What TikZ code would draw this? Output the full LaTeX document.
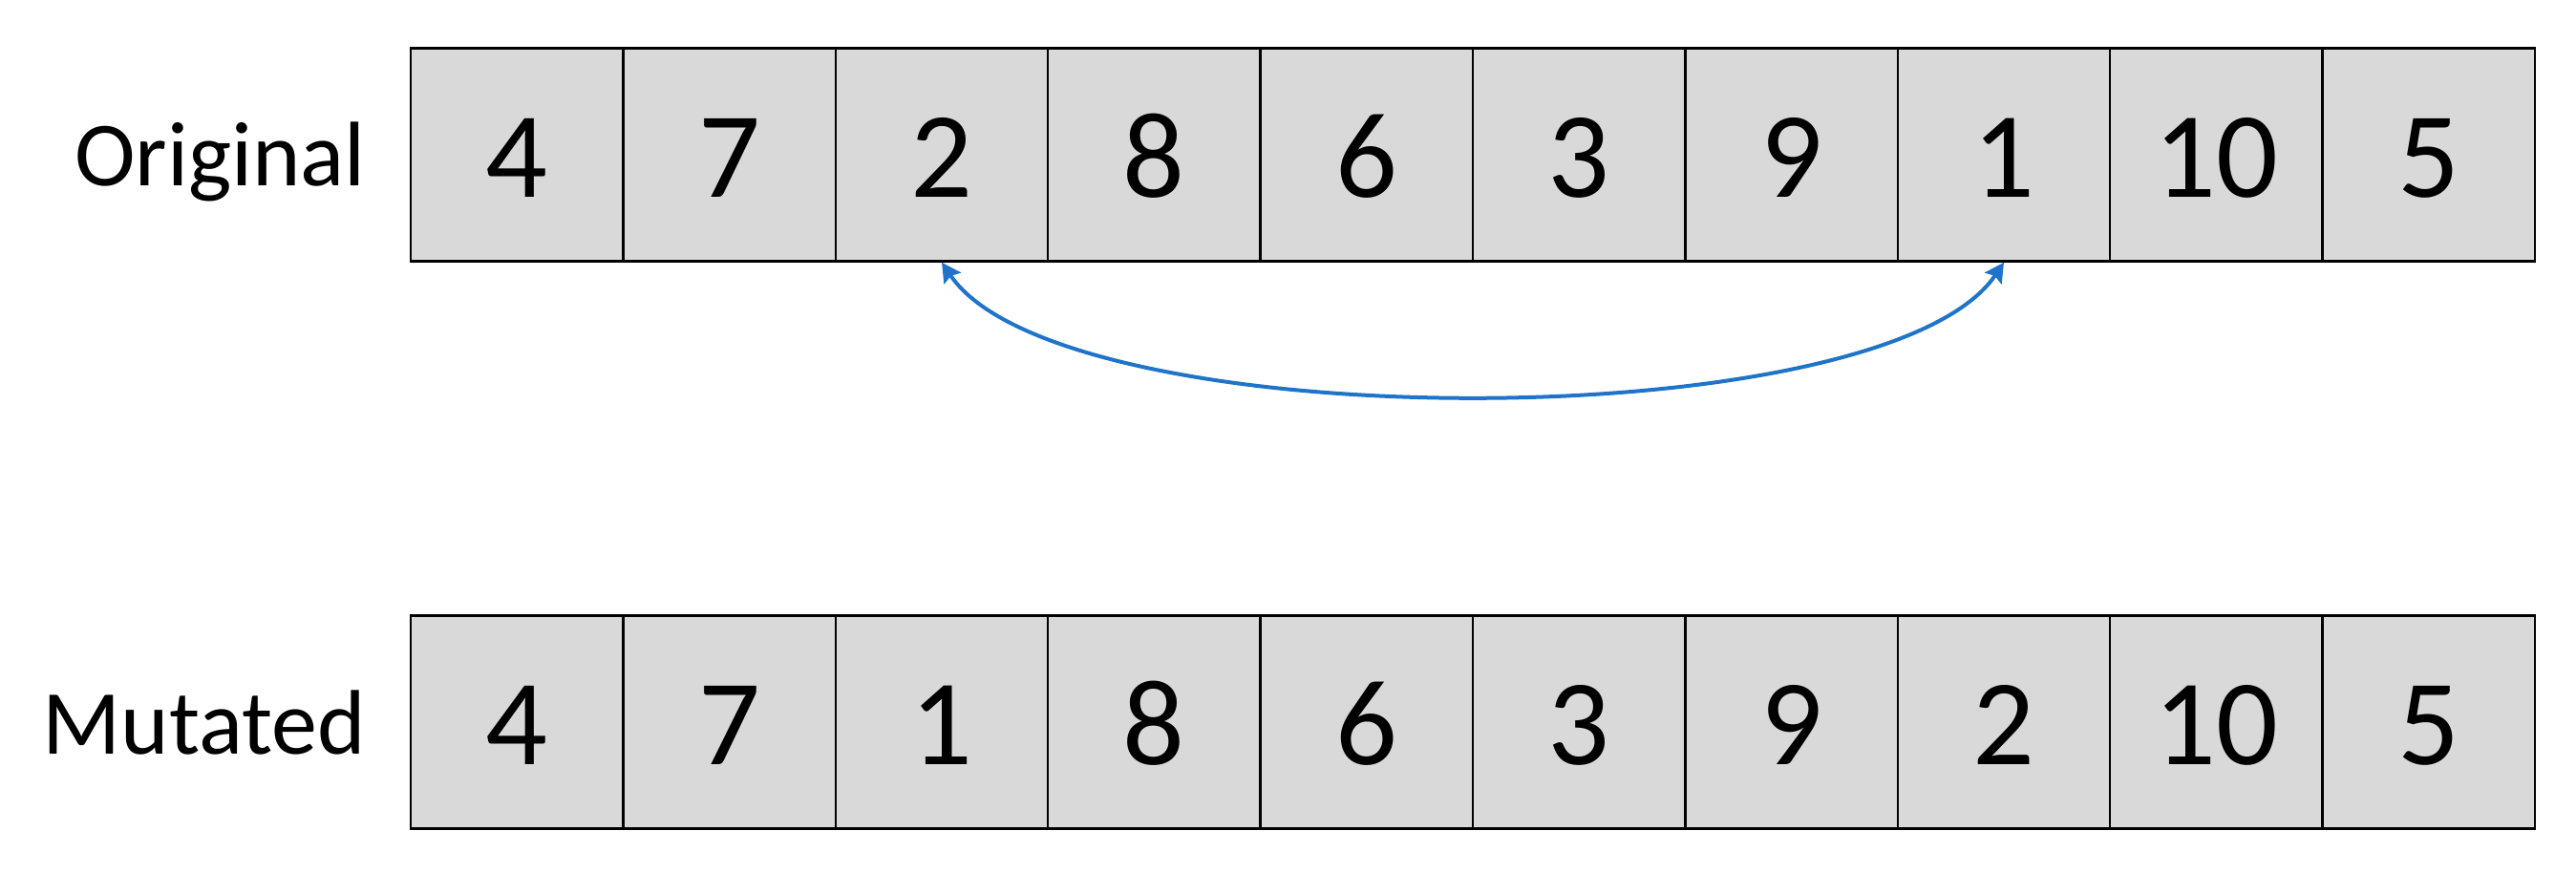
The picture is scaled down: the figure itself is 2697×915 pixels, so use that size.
\documentclass[tikz,border=0pt]{standalone}
\usepackage{fontspec}
\setmainfont{Carlito}
\usetikzlibrary{arrows.meta}
\definecolor{cellgray}{HTML}{D9D9D9}
\definecolor{arrowblue}{HTML}{1F74C9}
\begin{document}
\begin{tikzpicture}[x=1pt,y=-1pt,
  cell/.style={draw=black,fill=cellgray,line width=2.5pt,minimum width=222.4pt,
    minimum height=223pt,inner sep=0pt,text height=88pt,text depth=0pt,
    font=\fontsize{128}{150}\selectfont},
  rowlabel/.style={anchor=base east,inner sep=0pt,font=\fontsize{96}{115}\selectfont},
  swap/.style={draw=arrowblue,line width=4pt,
    {Stealth[length=20pt,width=21pt,inset=3pt]}-{Stealth[length=20pt,width=21pt,inset=3pt]}}]
\useasboundingbox (0,0) rectangle (2697,915);
\foreach \v [count=\i] in {4,7,2,8,6,3,9,1,10,5}
  \node[cell] (o\i) at ({430+222.4*(\i-0.5)},162) {\v};
\foreach \v [count=\i] in {4,7,1,8,6,3,9,2,10,5}
  \node[cell] (m\i) at ({430+222.4*(\i-0.5)},756) {\v};
\node[rowlabel] (lo) at (383,194) {Original};
\node[rowlabel] (lm) at (383,789) {Mutated};
\draw[swap] (o3.south) .. controls +(125,185) and +(-125,185) .. (o8.south);
\end{tikzpicture}
\end{document}
